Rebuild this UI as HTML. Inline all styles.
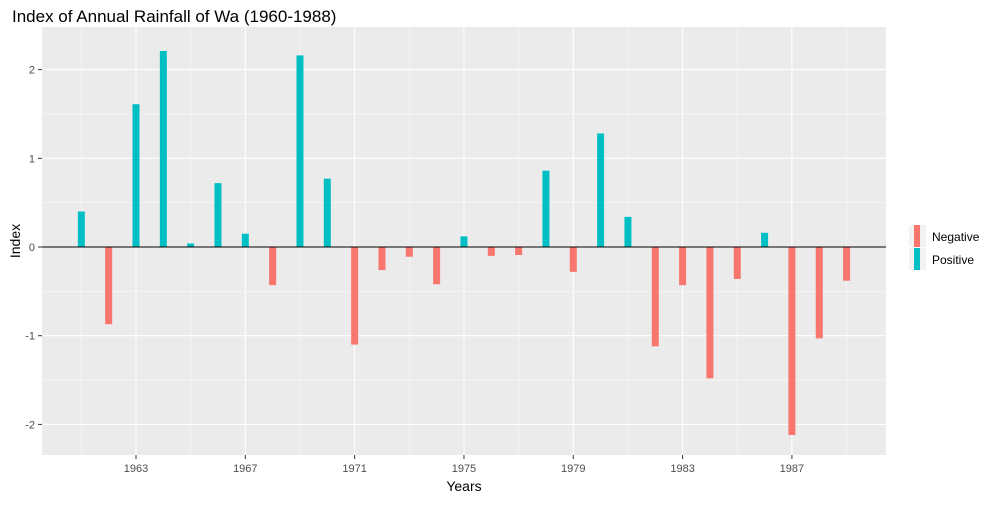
<!DOCTYPE html>
<html><head><meta charset="utf-8"><style>
body{margin:0;background:#fff;font-family:"Liberation Sans",Arial,sans-serif}
</style></head><body>
<svg id="c" width="1000" height="500" xmlns="http://www.w3.org/2000/svg" font-family="Liberation Sans, Arial, sans-serif">
<text x="12" y="22" font-size="17" fill="#000">Index of Annual Rainfall of Wa (1960-1988)</text>
<rect x="42" y="27" width="844" height="428" fill="#ebebeb"/>
<g id="grid"></g><g id="bars"></g><g id="axes"></g>
<text x="464" y="491" font-size="14" text-anchor="middle">Years</text>
<text x="20" y="241" font-size="14" text-anchor="middle" transform="rotate(-90 20 241)">Index</text>
<g>
<rect x="909" y="225" width="17" height="22" fill="#f2f2f2"/>
<rect x="914" y="225" width="6" height="22" fill="#f8766d"/>
<text x="932" y="241" font-size="12">Negative</text>
<rect x="909" y="248" width="17" height="22" fill="#f2f2f2"/>
<rect x="914" y="248" width="6" height="22" fill="#00bfc4"/>
<text x="932" y="264" font-size="12">Positive</text>
</g>
</svg>
<script>
const years=[1961,1962,1963,1964,1965,1966,1967,1968,1969,1970,1971,1972,1973,1974,1975,1976,1977,1978,1979,1980,1981,1982,1983,1984,1985,1986,1987,1988,1989];
const values=[0.40,-0.87,1.61,2.21,0.04,0.72,0.15,-0.43,2.16,0.77,-1.10,-0.26,-0.11,-0.42,0.12,-0.10,-0.09,0.86,-0.28,1.28,0.34,-1.12,-0.43,-1.48,-0.36,0.16,-2.12,-1.03,-0.38];
const xTicks=[1963,1967,1971,1975,1979,1983,1987];
const yTicks=[-2,-1,0,1,2];
const NS="http://www.w3.org/2000/svg";
const xs=y=>136+(y-1963)*27.33;
const ys=v=>247-v*88.7;
function mk(t,a,p){const e=document.createElementNS(NS,t);for(const k in a)e.setAttribute(k,a[k]);p.appendChild(e);return e;}
const grid=document.getElementById('grid'),bars=document.getElementById('bars'),axes=document.getElementById('axes');
for(let v=-2.5;v<=2.01;v+=0.5){const l=mk('line',{x1:42,x2:886,y1:ys(v),y2:ys(v),stroke:'#fff','stroke-width':Number.isInteger(v)?1.1:0.5},grid);

}
for(let y=1961;y<=1989;y+=2){const l=mk('line',{x1:xs(y),x2:xs(y),y1:27,y2:455,stroke:'#fff','stroke-width':(y-1963)%4===0?1.1:0.5},grid);

}
years.forEach((y,i)=>{const v=values[i];const r=mk('rect',{x:xs(y)-3.5,width:7,y:Math.min(ys(v),ys(0)),height:Math.abs(ys(v)-ys(0)),fill:v<0?'#f8766d':'#00bfc4'},bars);

});
const z=mk('line',{x1:42,x2:886,y1:ys(0),y2:ys(0),stroke:'#000','stroke-width':1},axes);


xTicks.forEach(y=>{const t=mk('line',{x1:xs(y),x2:xs(y),y1:455,y2:459,stroke:'#333'},axes);


const s=mk('text',{x:xs(y),y:472,'font-size':11,fill:'#4d4d4d','text-anchor':'middle'},axes);s.textContent=y;

});
yTicks.forEach(v=>{const t=mk('line',{x1:38,x2:42,y1:ys(v),y2:ys(v),stroke:'#333'},axes);


const s=mk('text',{x:35,y:ys(v)+4,'font-size':11,fill:'#4d4d4d','text-anchor':'end'},axes);s.textContent=v;

});
</script>
</body></html>
